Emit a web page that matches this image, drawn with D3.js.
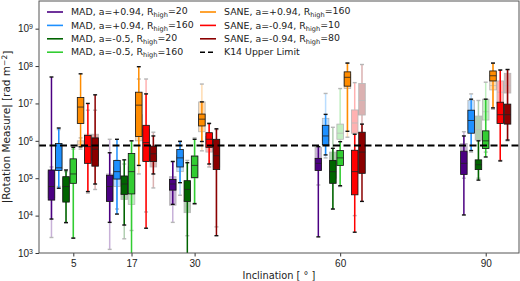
<!DOCTYPE html>
<html lang="en">
<head>
<meta charset="UTF-8">
<title>Rotation measure vs inclination</title>
<style>
    body { margin: 0; background: #fff; }
    svg { display: block; font-family: "DejaVu Sans", sans-serif; }
    .tick text { font-size: 10px; fill: #222; }
    .leg text { font-size: 9.4px; fill: #222; }
</style>
</head>
<body>
<div id="chart"></div>
<script src="https://d3js.org/d3.v7.min.js"></script>
<script>
// inclinations on the x axis
const inclinations = [5, 17, 30, 60, 90];

const seriesNames = [
    ['MAD, a=+0.94, R', 'high', '=20'],
    ['MAD, a=+0.94, R', 'high', '=160'],
    ['MAD, a=-0.5, R', 'high', '=20'],
    ['MAD, a=-0.5, R', 'high', '=160'],
    ['SANE, a=+0.94, R', 'high', '=160'],
    ['SANE, a=-0.94, R', 'high', '=10'],
    ['SANE, a=-0.94, R', 'high', '=80']
];
const seriesColors = ['#4b0082', '#1e90ff', '#006400', '#32cd32', '#ff8c00', '#ff0000', '#8b0000'];

// box stats [low whisker, q1, median, q3, high whisker], one row per series, one entry per inclination
const solidStats = [
    [[8.1e3, 2.6e4, 6e4, 1.66e5, 5.1e7], [6.6e3, 2.4e4, 6e4, 1.2e5, 4.8e5], [2e4, 4.8e4, 7e4, 9.3e4, 2.8e5], [2.7e3, 1.6e5, 2.5e5, 3.4e5, 7e5], [1.04e4, 1.26e5, 2.5e5, 5.3e5, 1.35e6]],
    [[5.4e4, 1.6e5, 1.9e5, 8.5e5, 2.2e6], [1.1e4, 9.5e4, 1.5e5, 3e5, 1.1e6], [7.6e4, 2e5, 3.5e5, 5.9e5, 9.6e5], [4.2e5, 7.8e5, 1.35e6, 2.6e6, 5.1e6], [5.5e5, 1.6e6, 3.5e6, 6.6e6, 1.3e7]],
    [[6.5e3, 2.3e4, 6e4, 1.1e5, 1.66e5], [5.6e3, 3.7e4, 7e4, 1.15e5, 3.1e5], [5e2, 2.4e4, 5e4, 8.6e4, 2.6e5], [1.5e4, 7.3e4, 1.5e5, 3e5, 6.3e5], [8.9e4, 1.7e5, 2.3e5, 3.1e5, 1e6]],
    [[2.5e3, 7.3e4, 1.3e5, 3.3e5, 6.7e5], [5e2, 3.8e4, 1.5e5, 4.6e5, 1e6], [2.1e4, 1.05e5, 2.2e5, 3.9e5, 1.1e6], [6.3e4, 2.2e5, 3.5e5, 5.5e5, 9.5e5], [3.7e5, 6.2e5, 1e6, 1.85e6, 1.3e7]],
    [[6.9e5, 2.9e6, 8e6, 1.45e7, 6.2e7], [2.2e5, 1.3e6, 9e6, 2e7, 9.6e7], [9.6e5, 2.5e6, 3.8e6, 5.2e6, 1.1e7], [1.8e6, 2.9e7, 5e7, 7e7, 1.2e8], [7.6e6, 4e7, 5.5e7, 7.4e7, 1.2e8]],
    [[4.4e4, 2.5e5, 7e5, 1.4e6, 1e7], [4.6e3, 2.8e5, 9e5, 2.6e6, 1.8e7], [2.4e5, 6.7e5, 1.1e6, 1.65e6, 2.9e6], [3.6e3, 3.6e4, 1.5e5, 5.6e5, 1.5e6], [2.9e5, 2.9e6, 5e6, 1.08e7, 7.8e7]],
    [[7e4, 2.1e5, 6e5, 1.2e6, 1.7e7], [1.3e5, 2.8e5, 4.5e5, 7.2e5, 1.35e6], [2.9e3, 1.7e5, 4e5, 1.1e6, 2.1e6], [2.4e4, 1.35e5, 5e5, 1.7e6, 2.8e6], [1.05e6, 2.8e6, 5e6, 9.6e6, 8.1e7]]
];

// the faint boxes drawn behind
const fadedStats = [
    [[2.6e3, 3e4, 6e4, 1.5e5, 2e5], [1.25e3, 2.5e4, 6e4, 1.3e5, 1.1e6], [6.6e3, 1.9e4, 5e4, 1.1e5, 2.8e5], [6.6e4, 3.4e5, 4.5e5, 6.6e5, 7e5], [1e5, 5.6e5, 7e5, 8.5e5, 1.75e6]],
    [[6e4, 1.8e5, 2.5e5, 7e5, 2e6], [1.5e4, 6e4, 1e5, 2e5, 3e5], [3.5e4, 1.5e5, 2.5e5, 4e5, 1e6], [3.5e5, 1e6, 2e6, 4e6, 1.85e7], [5e5, 2e6, 4e6, 1.2e7, 1.8e7]],
    [[6.5e3, 2.5e4, 5e4, 1e5, 1.5e5], [2.4e3, 2.7e4, 3.5e4, 4e4, 2.4e5], [2.9e3, 1.2e4, 1.8e4, 2.6e4, 3e5], [1.5e4, 1e5, 2e5, 5e5, 2.3e6], [1e5, 1.05e6, 2e6, 4.6e6, 1.2e7]],
    [[2.5e3, 8e4, 1.5e5, 3e5, 6e5], [4e3, 2e4, 8e4, 2e5, 1e6], [2e4, 1e5, 2e5, 4e5, 1.2e6], [6e4, 1.1e6, 1.6e6, 2.8e6, 2.5e7], [5e5, 3.6e6, 6e6, 1.3e7, 3.7e7]],
    [[6e5, 7e5, 8e5, 1e6, 1.2e6], [1.3e5, 1e6, 2e6, 5e6, 4.5e7], [5.4e5, 1.75e6, 4e6, 1.1e7, 3.3e7], [1.25e6, 2.5e7, 4e7, 6e7, 1.2e8], [7e6, 2.3e7, 3e7, 4e7, 1.2e8]],
    [[4e4, 3e5, 8e5, 1.5e6, 6.6e6], [1.25e4, 3e5, 8e5, 2e6, 4.5e7], [2e5, 5e5, 8e5, 1.3e6, 3e6], [1e4, 1.6e6, 3e6, 6.7e6, 3.6e7], [3e5, 1e7, 2e7, 4e7, 8e7]],
    [[5e4, 3e5, 7e5, 1.5e6, 6.6e6], [5.5e4, 2e5, 3e5, 4e5, 1.7e6], [5e3, 2e5, 5e5, 1e6, 2e6], [2e5, 4.9e6, 1.2e7, 3.4e7, 1.1e8], [1e6, 1.9e7, 3e7, 6.4e7, 8e7]]
];

const k14Limit = 7.5e5;
const yTickValues = [1e3, 1e4, 1e5, 1e6, 1e7, 1e8, 1e9];

const width = 520, height = 281;
const margin = { top: 1, right: 1, bottom: 28, left: 39 };

const svg = d3.select('#chart').append('svg')
    .attr('width', width)
    .attr('height', height);

const x = d3.scaleLinear()
    .domain([-2.07, 96.86])
    .range([margin.left, width - margin.right]);

const y = d3.scaleLog()
    .domain([1e3, Math.pow(10, 9.74)])
    .range([height - margin.bottom, margin.top]);

const step = 1.5;      // degrees between neighbouring boxes
const boxW = x(1.35) - x(0);
const capW = boxW * 0.6;

svg.append('defs').append('clipPath').attr('id', 'plot')
    .append('rect')
    .attr('x', margin.left).attr('y', margin.top)
    .attr('width', width - margin.left - margin.right)
    .attr('height', height - margin.top - margin.bottom);

const plot = svg.append('g').attr('clip-path', 'url(#plot)');

function drawBox(g, s, cx, color, faded) {
    const op = faded ? 0.3 : 1;
    const b = g.append('g').attr('opacity', op);
    // whiskers
    b.append('line')
        .attr('x1', cx).attr('x2', cx)
        .attr('y1', y(s[0])).attr('y2', y(s[1]))
        .attr('stroke', color).attr('stroke-width', 1.5);
    b.append('line')
        .attr('x1', cx).attr('x2', cx)
        .attr('y1', y(s[3])).attr('y2', y(s[4]))
        .attr('stroke', color).attr('stroke-width', 1.5);
    // caps
    [s[0], s[4]].forEach(v => {
        b.append('line')
            .attr('x1', cx - capW / 2).attr('x2', cx + capW / 2)
            .attr('y1', y(v)).attr('y2', y(v))
            .attr('stroke', '#111').attr('stroke-width', 1.4);
    });
    b.append('rect')
        .attr('x', cx - boxW / 2)
        .attr('y', y(s[3]))
        .attr('width', boxW)
        .attr('height', y(s[1]) - y(s[3]))
        .attr('fill', color)
        .attr('stroke', '#111').attr('stroke-width', 0.8);
    b.append('line')
        .attr('x1', cx - boxW / 2).attr('x2', cx + boxW / 2)
        .attr('y1', y(s[2])).attr('y2', y(s[2]))
        .attr('stroke', '#222').attr('stroke-width', 0.8);
}

seriesColors.forEach((color, i) => {
    inclinations.forEach((inc, j) => {
        const cx = x(inc + (i - 3) * step);
        drawBox(plot, fadedStats[i][j], cx, color, true);
        drawBox(plot, solidStats[i][j], cx, color, false);
    });
});

// K14 upper limit
plot.append('line')
    .attr('x1', margin.left).attr('x2', width - margin.right)
    .attr('y1', y(k14Limit)).attr('y2', y(k14Limit))
    .attr('stroke', '#000').attr('stroke-width', 2)
    .attr('stroke-dasharray', '7,3.5');

// axes
const xAxis = svg.append('g')
    .attr('transform', `translate(0,${height - margin.bottom})`)
    .call(d3.axisBottom(x).tickValues(inclinations).tickSize(3.5).tickPadding(3));
xAxis.select('.domain').remove();

const yAxis = svg.append('g')
    .attr('transform', `translate(${margin.left},0)`)
    .call(d3.axisLeft(y).tickValues(yTickValues).tickSize(3.5).tickPadding(3).tickFormat(''));
yAxis.select('.domain').remove();
yAxis.selectAll('.tick line').attr('stroke', '#333');
xAxis.selectAll('.tick line').attr('stroke', '#333');

yAxis.selectAll('.tick').append('text')
    .attr('x', -6).attr('dy', '0.32em')
    .attr('text-anchor', 'end')
    .each(function(d) {
        const t = d3.select(this);
        t.append('tspan').text('10');
        t.append('tspan').attr('dy', '-0.45em').attr('font-size', '7px').text(Math.round(Math.log10(d)));
    });

// frame
svg.append('rect')
    .attr('x', margin.left).attr('y', margin.top)
    .attr('width', width - margin.left - margin.right)
    .attr('height', height - margin.top - margin.bottom)
    .attr('fill', 'none').attr('stroke', '#555').attr('stroke-width', 1);

// axis labels
svg.append('text')
    .attr('x', 279).attr('y', 279)
    .attr('text-anchor', 'middle')
    .attr('font-size', 9.8).attr('fill', '#222')
    .text('Inclination [ ° ]');

const yl = svg.append('text')
    .attr('transform', `translate(10,${(margin.top + height - margin.bottom) / 2}) rotate(-90)`)
    .attr('text-anchor', 'middle')
    .attr('font-size', 10.5).attr('fill', '#222');
yl.append('tspan').text('|Rotation Measure| [rad m');
yl.append('tspan').attr('dy', '-0.45em').attr('font-size', '7.5px').text('−2');
yl.append('tspan').attr('dy', '0.45em').text(']');

// legend
const leg = svg.append('g').attr('class', 'leg');
const legItems = seriesNames.map((n, i) => ({ name: n, color: seriesColors[i], dash: null }))
    .concat([{ name: ['K14 Upper Limit'], color: '#000', dash: '5,3' }]);

legItems.forEach((d, i) => {
    const col = i < 4 ? 0 : 1;
    const row = i % 4;
    const lx = col === 0 ? 47 : 200;
    const ly = 12 + row * 13.4;
    leg.append('line')
        .attr('x1', lx).attr('x2', lx + 16)
        .attr('y1', ly).attr('y2', ly)
        .attr('stroke', d.color).attr('stroke-width', 1.6)
        .attr('stroke-dasharray', d.dash);
    const t = leg.append('text').attr('x', lx + 24).attr('y', ly).attr('dy', '0.35em');
    t.append('tspan').text(d.name[0]);
    if (d.name.length > 1) {
        t.append('tspan').attr('dy', '0.3em').attr('font-size', '6.6px').text(d.name[1]);
        t.append('tspan').attr('dy', '-0.3em').text(d.name[2]);
    }
});
</script>
</body>
</html>
